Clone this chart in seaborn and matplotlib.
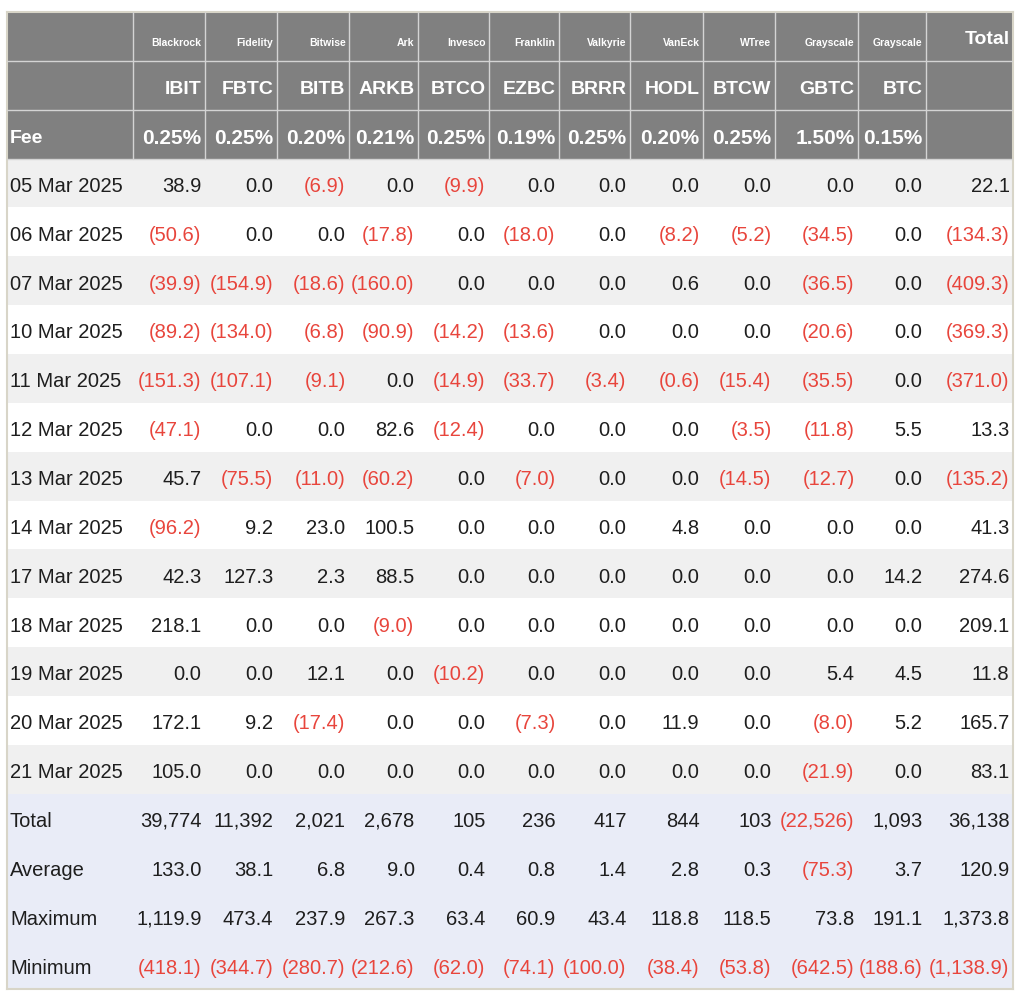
import numpy as np
import seaborn as sns
import matplotlib
import matplotlib.pyplot as plt
from matplotlib.colors import ListedColormap

matplotlib.use('Agg')

# --- data -------------------------------------------------------------
issuers = ["Blackrock", "Fidelity", "Bitwise", "Ark", "Invesco", "Franklin",
           "Valkyrie", "VanEck", "WTree", "Grayscale", "Grayscale"]
tickers = ["IBIT", "FBTC", "BITB", "ARKB", "BTCO", "EZBC",
           "BRRR", "HODL", "BTCW", "GBTC", "BTC"]
fees = ["0.25%", "0.25%", "0.20%", "0.21%", "0.25%", "0.19%",
        "0.25%", "0.20%", "0.25%", "1.50%", "0.15%"]

dates = ["05 Mar 2025", "06 Mar 2025", "07 Mar 2025", "10 Mar 2025",
         "11 Mar 2025", "12 Mar 2025", "13 Mar 2025", "14 Mar 2025",
         "17 Mar 2025", "18 Mar 2025", "19 Mar 2025", "20 Mar 2025",
         "21 Mar 2025"]

# daily flows, columns = tickers + Total
flows = [
    [38.9, 0.0, -6.9, 0.0, -9.9, 0.0, 0.0, 0.0, 0.0, 0.0, 0.0, 22.1],
    [-50.6, 0.0, 0.0, -17.8, 0.0, -18.0, 0.0, -8.2, -5.2, -34.5, 0.0, -134.3],
    [-39.9, -154.9, -18.6, -160.0, 0.0, 0.0, 0.0, 0.6, 0.0, -36.5, 0.0, -409.3],
    [-89.2, -134.0, -6.8, -90.9, -14.2, -13.6, 0.0, 0.0, 0.0, -20.6, 0.0, -369.3],
    [-151.3, -107.1, -9.1, 0.0, -14.9, -33.7, -3.4, -0.6, -15.4, -35.5, 0.0, -371.0],
    [-47.1, 0.0, 0.0, 82.6, -12.4, 0.0, 0.0, 0.0, -3.5, -11.8, 5.5, 13.3],
    [45.7, -75.5, -11.0, -60.2, 0.0, -7.0, 0.0, 0.0, -14.5, -12.7, 0.0, -135.2],
    [-96.2, 9.2, 23.0, 100.5, 0.0, 0.0, 0.0, 4.8, 0.0, 0.0, 0.0, 41.3],
    [42.3, 127.3, 2.3, 88.5, 0.0, 0.0, 0.0, 0.0, 0.0, 0.0, 14.2, 274.6],
    [218.1, 0.0, 0.0, -9.0, 0.0, 0.0, 0.0, 0.0, 0.0, 0.0, 0.0, 209.1],
    [0.0, 0.0, 12.1, 0.0, -10.2, 0.0, 0.0, 0.0, 0.0, 5.4, 4.5, 11.8],
    [172.1, 9.2, -17.4, 0.0, 0.0, -7.3, 0.0, 11.9, 0.0, -8.0, 5.2, 165.7],
    [105.0, 0.0, 0.0, 0.0, 0.0, 0.0, 0.0, 0.0, 0.0, -21.9, 0.0, 83.1],
]

total_row = [39774, 11392, 2021, 2678, 105, 236, 417, 844, 103, -22526, 1093, 36138]
average_row = [133.0, 38.1, 6.8, 9.0, 0.4, 0.8, 1.4, 2.8, 0.3, -75.3, 3.7, 120.9]
maximum_row = [1119.9, 473.4, 237.9, 267.3, 63.4, 60.9, 43.4, 118.8, 118.5, 73.8, 191.1, 1373.8]
minimum_row = [-418.1, -344.7, -280.7, -212.6, -62.0, -74.1, -100.0, -38.4, -53.8, -642.5, -188.6, -1138.9]

summary_labels = ["Total", "Average", "Maximum", "Minimum"]
summary_rows = [total_row, average_row, maximum_row, minimum_row]
summary_decimals = [0, 1, 1, 1]

# --- layout -----------------------------------------------------------
col_widths = [126, 72, 72, 72, 69, 71, 70, 71, 73, 72, 83, 68, 87]
edges = np.concatenate([[0], np.cumsum(col_widths)]) / sum(col_widths)

HEADER_BG = "#808080"
ROW_GRAY = "#f0f0f0"
ROW_WHITE = "#ffffff"
SUMMARY_BG = "#e9ecf7"
RED = "#e8453c"
INK = "#1e1e1e"

sns.set_style("white")
plt.rcParams['font.family'] = ['Liberation Sans', 'DejaVu Sans']

n_head = 3
n_rows = n_head + len(dates) + len(summary_rows)

# background category per row: 0 header, 1 gray, 2 white, 3 summary
bg = [0] * n_head + [1 if i % 2 == 0 else 2 for i in range(len(dates))] + [3] * len(summary_rows)
bg = np.array(bg).reshape(-1, 1)

fig = plt.figure(figsize=(10.24, 10.03), dpi=100)
ax = fig.add_axes([7 / 1024, 13 / 1003, 1006 / 1024, 977 / 1003])

sns.heatmap(bg, ax=ax, cmap=ListedColormap([HEADER_BG, ROW_GRAY, ROW_WHITE, SUMMARY_BG]),
            vmin=-0.5, vmax=3.5, cbar=False, xticklabels=False, yticklabels=False)


def fmt(v, dec):
    s = f"{abs(v):,.{dec}f}"
    return (f"({s})", RED) if v < 0 else (s, INK)


pad = 3.5 / 1006
lpad = 3 / 1006

# header grid lines
for e in edges[1:-1]:
    ax.plot([e, e], [0, n_head], color="#d4d4d4", lw=1.0, zorder=3)
for r in range(1, n_head + 1):
    ax.plot([0, 1], [r, r], color="#d4d4d4", lw=1.0, zorder=3)

# header text
for j in range(len(tickers)):
    xr = edges[j + 2] - pad
    ax.text(xr, 0.62, issuers[j], ha="right", va="center", color="white",
            fontsize=7.5, fontweight="bold")
    ax.text(xr, 1.56, tickers[j], ha="right", va="center", color="white",
            fontsize=14, fontweight="bold")
    ax.text(xr, 2.56, fees[j], ha="right", va="center", color="white",
            fontsize=15, fontweight="bold")
ax.text(edges[-1] - pad, 0.54, "Total", ha="right", va="center", color="white",
        fontsize=14, fontweight="bold")
ax.text(lpad, 2.56, "Fee", ha="left", va="center", color="white",
        fontsize=14, fontweight="bold")

# daily rows
for i, (d, row) in enumerate(zip(dates, flows)):
    y = n_head + i + 0.55
    ax.text(lpad, y, d, ha="left", va="center", color=INK, fontsize=14.5)
    for j, v in enumerate(row):
        s, c = fmt(v, 1)
        ax.text(edges[j + 2] - pad, y, s, ha="right", va="center", color=c, fontsize=14.5)

# summary rows
for k, (lab, row, dec) in enumerate(zip(summary_labels, summary_rows, summary_decimals)):
    y = n_head + len(dates) + k + 0.55
    ax.text(lpad, y, lab, ha="left", va="center", color=INK, fontsize=14.5)
    for j, v in enumerate(row):
        s, c = fmt(v, dec)
        ax.text(edges[j + 2] - pad, y, s, ha="right", va="center", color=c, fontsize=14.5)

for sp in ax.spines.values():
    sp.set_visible(True)
    sp.set_color("#d8d5c8")
    sp.set_linewidth(1.5)

fig.savefig("out.png", dpi=100)
